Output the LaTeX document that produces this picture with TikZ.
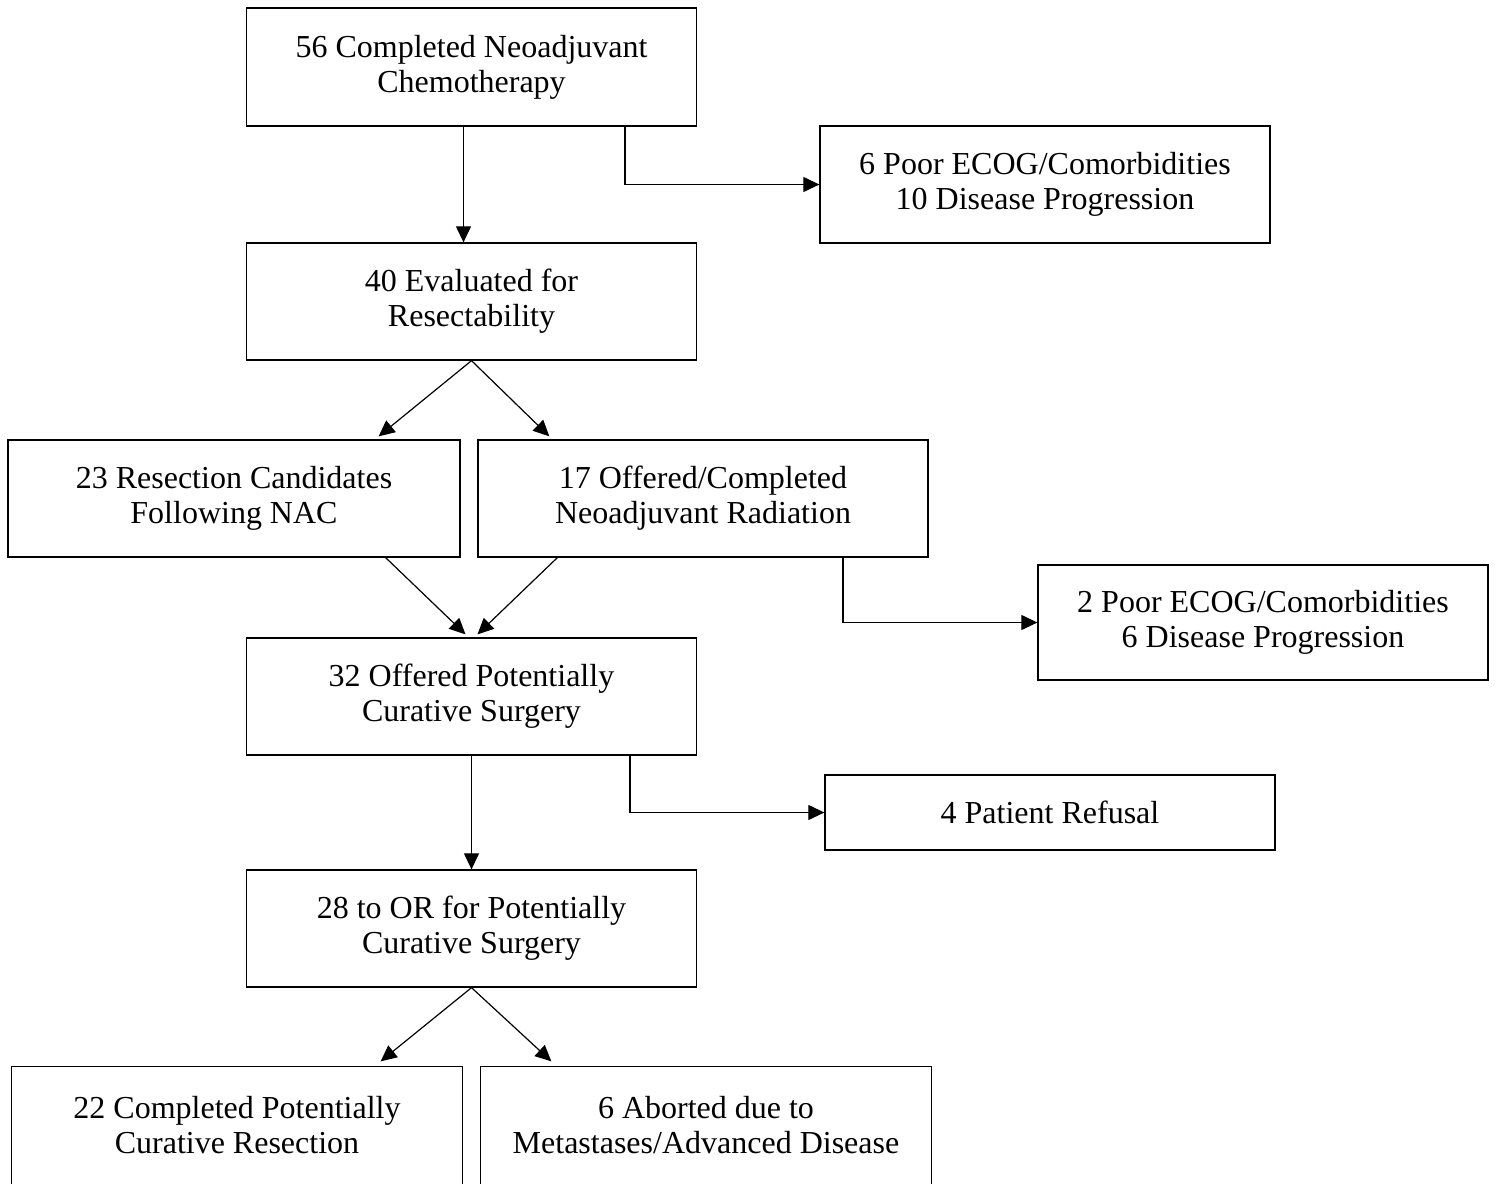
\documentclass[tikz,border=0pt]{standalone}
\usepackage{fontspec}
\setmainfont{Liberation Serif}
\usetikzlibrary{arrows.meta,calc}
\begin{document}
\begin{tikzpicture}[x=0.5pt,y=-0.5pt,
  box/.style={draw,line width=0.65pt,rectangle,align=center,inner sep=0pt,
    font=\fontsize{16}{17.5}\selectfont,minimum width=225pt,minimum height=58.5pt},
  tbox/.style={box,draw=none},
  arr/.style={line width=0.6pt,-{Triangle[length=8pt,width=7.5pt]}}]
\useasboundingbox (0,0) rectangle (1496,1184);
\clip (0,0) rectangle (1496,1184);
\fill[white] (0,0) rectangle (1496,1184);
\node[box,minimum height=59pt] (b1) at (471.5,67) {56 Completed Neoadjuvant\\Chemotherapy};
\node[box] (r1) at (1045,184.5) {6 Poor ECOG/Comorbidities\\10 Disease Progression};
\node[box] (b2) at (471.5,301.5) {40 Evaluated for\\Resectability};
\node[box,minimum width=226pt] (b3) at (234,498.5) {23 Resection Candidates\\Following NAC};
\node[box] (b4) at (703,498.5) {17 Offered/Completed\\Neoadjuvant Radiation};
\node[box,minimum height=57.5pt] (r2) at (1263,622.5) {2 Poor ECOG/Comorbidities\\6 Disease Progression};
\node[box] (b5) at (471.5,696.5) {32 Offered Potentially\\Curative Surgery};
\node[box,minimum height=37.5pt] (r3) at (1050,812.5) {4 Patient Refusal};
\node[box] (b6) at (471.5,928.5) {28 to OR for Potentially\\Curative Surgery};
\node[tbox] (b7) at (237,1125.5) {22 Completed Potentially\\Curative Resection};
\node[tbox] (b8) at (706,1125.5) {6 Aborted due to\\Metastases/Advanced Disease};
\draw[line width=0.65pt] (b7.north west) rectangle ($(b7.south east)+(0,20)$);
\draw[line width=0.65pt] (b8.north west) rectangle ($(b8.south east)+(0,20)$);
\coordinate (k1) at (625,0);
\coordinate (k2) at (843,0);
\coordinate (k3) at (630,0);
\draw[arr] ($(b1.south)+(-8,0)$) -- ($(b2.north)+(-8,0)$);
\draw[arr] (b1.south -| k1) |- (r1.west);
\draw[arr] (b2.south) -- ($(b3.north east)+(-82,-3)$);
\draw[arr] (b2.south) -- ($(b4.north west)+(72,-3)$);
\draw[arr] ($(b3.south east)+(-75,0)$) -- ($(b5.north)+(-6,-3)$);
\draw[arr] ($(b4.south west)+(80,0)$) -- ($(b5.north)+(6,-3)$);
\draw[arr] (b4.south -| k2) |- (r2.west);
\draw[arr] (b5.south) -- (b6.north);
\draw[arr] (b5.south -| k3) |- (r3.west);
\draw[arr] (b6.south) -- ($(b7.north east)+(-82,-5)$);
\draw[arr] (b6.south) -- ($(b8.north west)+(71,-5)$);
\end{tikzpicture}
\end{document}
